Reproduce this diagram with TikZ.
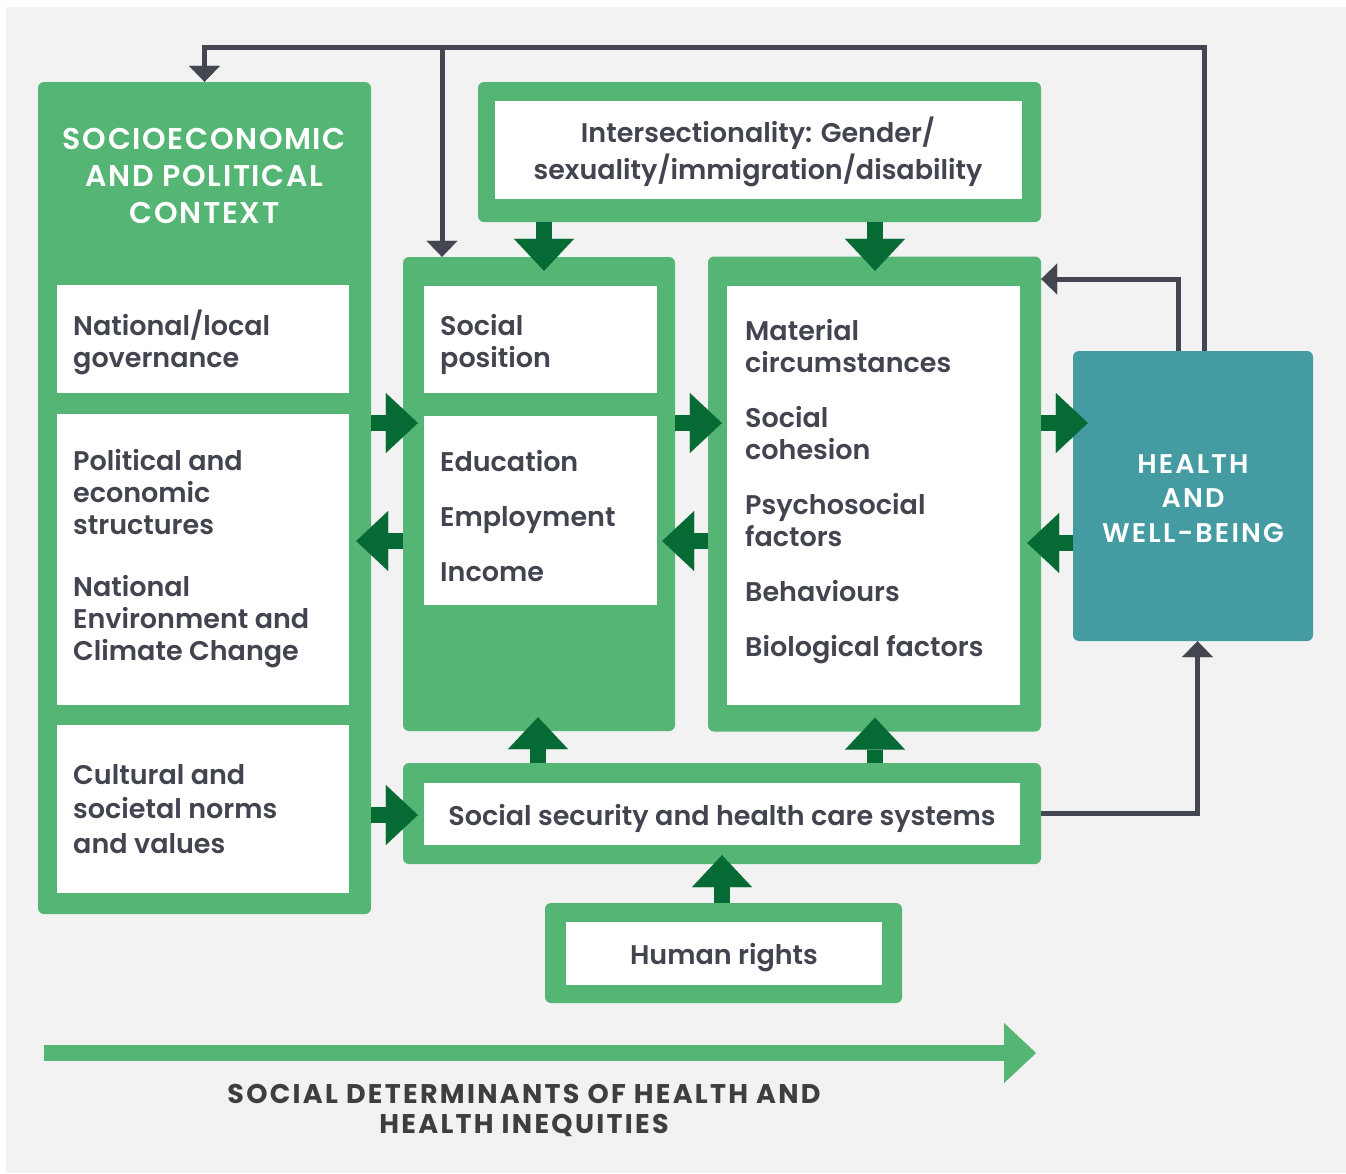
\documentclass[tikz,border=0pt]{standalone}
\usepackage{fontspec}
\usetikzlibrary{arrows.meta,calc}
\newcommand\wt{\bfseries}
\newcommand\bwt{\bfseries}
\IfFontExistsTF{Poppins SemiBold}{\setmainfont{Poppins SemiBold}\renewcommand\wt{}}{\setmainfont{Poppins}}
\IfFontExistsTF{Poppins Bold}{\newfontfamily\pbold{Poppins Bold}\renewcommand\bwt{\pbold}}{}
\definecolor{bgc}{HTML}{F2F2F2}
\definecolor{gr}{HTML}{55B574}
\definecolor{dg}{HTML}{066A35}
\definecolor{teal}{HTML}{459BA2}
\definecolor{lc}{HTML}{434551}
\definecolor{txtc}{HTML}{424450}
\definecolor{btc}{HTML}{3E3E3E}
\newcommand\bodyf{\wt\fontsize{27}{32}\selectfont}
\begin{document}
\begin{tikzpicture}[x=1pt,y=-1pt,
  gbox/.style={fill=gr, rounded corners=6pt, inner sep=0pt, draw=none},
  wbox/.style={fill=white, inner sep=0pt, draw=none},
  hbox/.style={fill=teal, rounded corners=6pt, inner sep=0pt, draw=none},
  txt/.style={anchor=base west, inner sep=0pt, text=txtc, font=\bodyf},
  ctxt/.style={anchor=base, inner sep=0pt, text=txtc, font=\bodyf},
  htxt/.style={anchor=base, inner sep=0pt, text=white, font=\wt\fontsize{27}{34.5}\selectfont\addfontfeature{LetterSpace=8}},
  ttxt/.style={anchor=base, inner sep=0pt, text=white, font=\wt\fontsize{30}{37}\selectfont\addfontfeature{LetterSpace=5.5}},
  btxt/.style={anchor=base, inner sep=0pt, text=btc, font=\bwt\fontsize{27}{30}\selectfont\addfontfeature{LetterSpace=8.5}},
  fat/.style={draw=dg, line width=16pt, -{Triangle[length=32pt,width=60pt,line width=0.01pt]}},
  fatg/.style={draw=gr, line width=16pt, -{Triangle[length=32pt,width=60pt,line width=0.01pt]}},
  fb/.style={draw=lc, line width=5pt, -{Triangle[length=16pt,width=31pt,line width=0.01pt]}}
]
\useasboundingbox (0,0) rectangle (1346,1173);
\fill[bgc] (6,7) rectangle (1346,1173);

% boxes
\node[gbox,minimum width=333pt,minimum height=832pt] (L) at (204.5,498) {};
\node[wbox,minimum width=292pt,minimum height=108pt] (L1) at (203,339) {};
\node[wbox,minimum width=292pt,minimum height=291pt] (L2) at (203,559.5) {};
\node[wbox,minimum width=292pt,minimum height=168pt] (L3) at (203,809) {};
\node[gbox,minimum width=272pt,minimum height=474pt] (M) at (539,494) {};
\node[wbox,minimum width=233pt,minimum height=107pt] (M1) at (540.5,339.5) {};
\node[wbox,minimum width=233pt,minimum height=189pt] (M2) at (540.5,510.5) {};
\node[gbox,minimum width=333pt,minimum height=475pt] (R) at (874.5,494) {};
\node[wbox,minimum width=293pt,minimum height=419pt] (R1) at (873.5,495.5) {};
\node[gbox,minimum width=563pt,minimum height=140pt] (I) at (759.5,152) {};
\node[wbox,minimum width=527pt,minimum height=98pt] (I1) at (758.5,150) {};
\node[hbox,minimum width=240pt,minimum height=290pt] (H) at (1193,496) {};
\node[gbox,minimum width=638pt,minimum height=101pt] (S) at (722,813.5) {};
\node[wbox,minimum width=596pt,minimum height=62pt] (S1) at (722,814) {};
\node[gbox,minimum width=357pt,minimum height=100pt] (HR) at (723.5,953) {};
\node[wbox,minimum width=316pt,minimum height=63pt] (HR1) at (724,953.5) {};

% helper coordinates
\coordinate (ya) at (0,423);
\coordinate (yb) at (0,541);
\coordinate (yc) at (0,543);
\coordinate (yd) at (0,815);
\coordinate (yf) at (0,279);
\coordinate (ytop) at (0,47.5);
\coordinate (xa) at (544,0);
\coordinate (xb) at (875,0);
\coordinate (xc) at (538,0);
\coordinate (xd) at (722,0);
\coordinate (br) at (442,45);

% thick arrows
\draw[fat,shorten >=6pt] (L.east|-ya) -- (M1.west|-ya);
\draw[fat,shorten >=7pt] (M.west|-yb) -- (L2.east|-yb);
\draw[fat,shorten >=5pt] (M.east|-ya) -- (R1.west|-ya);
\draw[fat,shorten >=5pt] (R.west|-yb) -- (M2.east|-yb);
\draw[fat,shorten >=-15pt] (R.east|-ya) -- (H.west|-ya);
\draw[fat,shorten >=7pt] (H.west|-yc) -- (R1.east|-yc);
\draw[fat,shorten >=15pt] (I.south-|xa) -- (M1.north-|xa);
\draw[fat,shorten >=15pt] (I.south-|xb) -- (R1.north-|xb);
\draw[fat,shorten >=-14pt] (S.north-|xc) -- (M.south-|xc);
\draw[fat,shorten >=-14pt] (S.north-|xb) -- (R.south-|xb);
\draw[fat,shorten >=10pt] (HR.north-|xd) -- (S1.south-|xd);
\draw[fat,shorten >=6pt] (L.east|-yd) -- (S1.west|-yd);

% feedback lines
\draw[fb] ([xshift=11.5pt]H.north) |- (L.north|-ytop) -- (L.north);
\draw[fb] (br) -- (M.north-|br);
\draw[fb] ([xshift=-14.5pt]H.north) |- (R.east|-yf);
\draw[fb] (S.east) -| ([xshift=4.5pt]H.south);

% bottom arrow
\coordinate (sd0) at (44,1053);
\coordinate (sd1) at (1036,1053);
\draw[fatg] (sd0) -- (sd1);

% texts
\node[ttxt] (tT) at (204.5,149) {\parbox[t]{330pt}{\centering SOCIOECONOMIC\\AND POLITICAL\\CONTEXT}};
\node[txt] (tL1) at (73,335) {\parbox[t]{275pt}{\raggedright National/local\\governance}};
\node[txt] (tL2) at (73,470) {\parbox[t]{275pt}{\raggedright Political and\\economic\\structures\\[30pt]National\\Environment and\\Climate Change}};
\node[txt,font=\wt\fontsize{27}{34.5}\selectfont] (tL3) at (73,784) {\parbox[t]{275pt}{\raggedright Cultural and\\societal norms\\and values}};
\node[txt] (tM1) at (440,335) {\parbox[t]{215pt}{\raggedright Social\\position}};
\node[txt] (tM2) at (440,471) {\parbox[t]{215pt}{\raggedright Education\\[23pt]Employment\\[23pt]Income}};
\node[txt] (tR) at (745,340) {\parbox[t]{275pt}{\raggedright Material\\circumstances\\[23pt]Social\\cohesion\\[23pt]Psychosocial\\factors\\[23pt]Behaviours\\[23pt]Biological factors}};
\node[ctxt,font=\wt\fontsize{27}{37}\selectfont] (tI) at (758,142) {\parbox[t]{520pt}{\centering Intersectionality: Gender/\\sexuality/immigration/disability}};
\node[ctxt] (tS) at (722,825) {Social security and health care systems};
\node[ctxt] (tHR) at (724,964) {Human rights};
\node[htxt] (tH) at (1193,473) {\parbox[t]{235pt}{\centering HEALTH\\AND\\WELL-BEING}};
\node[btxt] (tB) at (524,1103) {\parbox[t]{800pt}{\centering SOCIAL DETERMINANTS OF HEALTH AND\\HEALTH INEQUITIES}};
\end{tikzpicture}
\end{document}
